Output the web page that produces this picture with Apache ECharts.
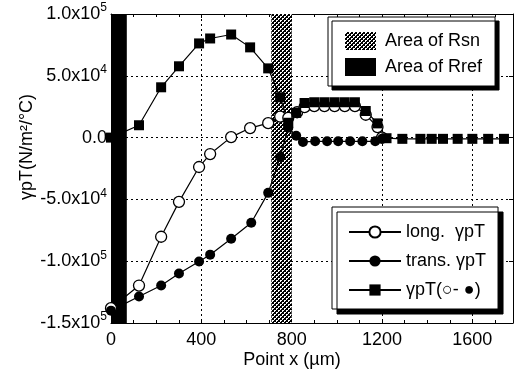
<!DOCTYPE html>
<html>
<head>
<meta charset="utf-8">
<script src="https://cdn.jsdelivr.net/npm/echarts@6/dist/echarts.min.js"></script>
<style>
  html, body { margin: 0; padding: 0; background: #fff; }
  #chart { width: 518px; height: 376px; }
</style>
</head>
<body>
<div id="chart"></div>
<script>
// data (x in um, y in N/m2/C)
const longX = [0, 124, 222, 301, 390, 439, 532, 616, 696, 749, 785, 824, 857, 900, 945, 990, 1035, 1080, 1128, 1180, 1200];
const longY = [-138000, -119700, -80200, -52000, -23800, -13300, 400, 7700, 11700, 17000, 16000, 20500, 24600, 25500, 25500, 25500, 25500, 25500, 18500, 8500, 0];
const transX = [0, 124, 222, 301, 390, 439, 532, 621, 696, 749, 785, 820, 850, 904, 957, 1006, 1059, 1113, 1170, 1200];
const transY = [-140000, -128600, -119700, -110000, -100300, -94700, -81800, -68900, -44700, -15700, 8000, 1500, -3500, -3000, -3000, -3000, -3000, -3000, -3000, -1000];
const diffX = [0, 124, 222, 301, 390, 439, 532, 616, 696, 749, 785, 820, 857, 900, 945, 990, 1035, 1080, 1128, 1180, 1220, 1290, 1370, 1420, 1470, 1535, 1600, 1670, 1740];
const diffY = [0, 10000, 40700, 57700, 76200, 80200, 83400, 73000, 56000, 32600, 12000, 20000, 28000, 28600, 28600, 28600, 28600, 28600, 21500, 11500, -500, -1000, -1000, -1000, -1000, -1000, -1000, -1000, -1000];

const rsnArea = [710, 800];
const rrefArea = [0, 70];

const yTicks = [-150000, -100000, -50000, 0, 50000, 100000];
const yTickLabels = ['-1.5x10^5', '-1.0x10^5', '-5.0x10^4', '0.0', '5.0x10^4', '1.0x10^5'];

const seriesNames = ['long.  \u03b3pT', 'trans. \u03b3pT', '\u03b3pT(\u25cb- \u25cf)'];
const areaNames = ['Area of Rsn', 'Area of Rref'];

const FONT = "'Liberation Sans', Arial, sans-serif";

// dotted fill for the Rsn band
const pc = document.createElement('canvas');
pc.width = 4; pc.height = 4;
const pctx = pc.getContext('2d');
pctx.fillStyle = '#000';
pctx.fillRect(0, 0, 4, 4);
pctx.fillStyle = '#fff';
pctx.fillRect(0, 0, 2, 1);
pctx.fillRect(0, 1, 1, 1);
pctx.fillRect(2, 2, 2, 1);
pctx.fillRect(2, 3, 1, 1);
const hatch = { image: pc, repeat: 'repeat' };

const pairs = (xs, ys) => xs.map((x, i) => [x, ys[i]]);

const myChart = echarts.init(document.getElementById('chart'));

const gridLine = { show: true, lineStyle: { color: '#000', type: [2, 3], width: 1 } };
const axisLine = { show: true, onZero: false, lineStyle: { color: '#000', width: 1 } };

const option = {
    animation: false,
    backgroundColor: '#fff',
    grid: { left: 111, top: 14, right: 5, bottom: 53 },
    xAxis: [
        {
            type: 'value', min: 0, max: 1780, interval: 400,
            axisLine: axisLine,
            axisTick: { inside: true, length: 4, lineStyle: { color: '#000' } },
            minorTick: { show: true, splitNumber: 4, length: 3, lineStyle: { color: '#000' } },
            axisLabel: { color: '#000', fontSize: 18, fontFamily: FONT, margin: 8, showMaxLabel: false, formatter: v => String(v) },
            splitLine: gridLine
        },
        {
            type: 'value', min: 0, max: 1780, interval: 400, position: 'top',
            axisLine: axisLine,
            axisTick: { inside: true, length: 4, lineStyle: { color: '#000' } },
            minorTick: { show: true, splitNumber: 4, length: 3, lineStyle: { color: '#000' } },
            axisLabel: { show: false },
            splitLine: { show: false }
        }
    ],
    yAxis: [
        {
            type: 'value', min: -150000, max: 100000, interval: 50000,
            axisLine: axisLine,
            axisTick: { inside: true, length: 4, lineStyle: { color: '#000' } },
            axisLabel: {
                margin: 4,
                formatter: v => {
                    const i = yTicks.indexOf(v);
                    if (i < 0) return '';
                    const parts = yTickLabels[i].split('^');
                    return parts[1] ? '{m|' + parts[0] + '}{e|' + parts[1] + '}' : '{m|' + parts[0] + '}';
                },
                rich: {
                    m: { fontSize: 18, fontFamily: FONT, color: '#000' },
                    e: { fontSize: 12, fontFamily: FONT, color: '#000', padding: [0, 0, 12, 0] }
                }
            },
            splitLine: gridLine
        },
        {
            type: 'value', min: -150000, max: 100000, interval: 50000, position: 'right',
            axisLine: axisLine,
            axisTick: { inside: true, length: 4, lineStyle: { color: '#000' } },
            axisLabel: { show: false },
            splitLine: { show: false }
        }
    ],
    legend: [
        {
            orient: 'vertical', left: 328, top: 17,
            padding: [15, 13, 10, 17],
            itemWidth: 31, itemHeight: 18, itemGap: 8,
            backgroundColor: '#fff', borderColor: '#000', borderWidth: 1,
            shadowColor: '#000', shadowOffsetX: 4, shadowOffsetY: 4, shadowBlur: 0,
            selectedMode: false,
            textStyle: { color: '#000', fontSize: 18, fontFamily: FONT, padding: [0, 0, 0, 4] },
            data: areaNames.map(n => ({ name: n, icon: 'rect' }))
        },
        {
            orient: 'vertical', left: 332, top: 207,
            padding: [16, 12, 10, 16],
            itemWidth: 52, itemHeight: 14, itemGap: 11,
            backgroundColor: '#fff', borderColor: '#000', borderWidth: 1,
            shadowColor: '#000', shadowOffsetX: 5, shadowOffsetY: 5, shadowBlur: 0,
            selectedMode: false,
            textStyle: { color: '#000', fontSize: 18, fontFamily: FONT },
            data: seriesNames
        }
    ],
    graphic: [
        {
            type: 'text', x: 27, y: 147, rotation: Math.PI / 2,
            style: { text: '\u03b3pT(N/m\u00b2/\u00b0C)', fontSize: 18, fontFamily: FONT, fill: '#000', align: 'center', verticalAlign: 'middle' }
        },
        {
            type: 'text', x: 292, y: 360,
            style: { text: 'Point x (\u00b5m)', fontSize: 18, fontFamily: FONT, fill: '#000', align: 'center', verticalAlign: 'middle' }
        }
    ],
    series: [
        {
            name: areaNames[0], type: 'line', data: [],
            itemStyle: { color: hatch },
            markArea: { silent: true, itemStyle: { color: hatch, opacity: 1 }, data: [[{ xAxis: rsnArea[0] }, { xAxis: rsnArea[1] }]] }
        },
        {
            name: areaNames[1], type: 'line', data: [],
            itemStyle: { color: '#000' },
            markArea: { silent: true, itemStyle: { color: '#000', opacity: 1 }, data: [[{ xAxis: rrefArea[0] }, { xAxis: rrefArea[1] }]] }
        },
        {
            name: seriesNames[0], type: 'line', data: pairs(longX, longY),
            symbol: 'circle', symbolSize: 11,
            itemStyle: { color: '#fff', borderColor: '#000', borderWidth: 1.3 },
            lineStyle: { color: '#000', width: 1.2 }
        },
        {
            name: seriesNames[1], type: 'line', data: pairs(transX, transY),
            symbol: 'circle', symbolSize: 10,
            itemStyle: { color: '#000' },
            lineStyle: { color: '#000', width: 1.2 }
        },
        {
            name: seriesNames[2], type: 'line', data: pairs(diffX, diffY),
            symbol: 'rect', symbolSize: 10,
            itemStyle: { color: '#000' },
            lineStyle: { color: '#000', width: 1.2 }
        }
    ]
};

window.onresize = () => {
    myChart.resize();
};
myChart.setOption(option);
</script>
</body>
</html>
